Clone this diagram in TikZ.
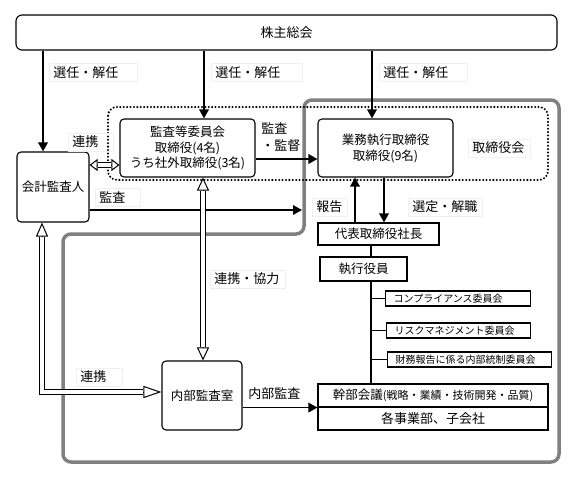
\documentclass[tikz,border=0pt]{standalone}
\usepackage{fontspec}
\setmainfont{Noto Sans CJK JP}
\usetikzlibrary{arrows.meta,calc}
\begin{document}
\begin{tikzpicture}[x=1pt,y=-1pt,
  font=\fontsize{12.5}{15.5}\selectfont,
  box/.style={draw, line width=1.1pt, inner sep=0pt, align=center, fill=white},
  rbox/.style={box, rounded corners=4pt},
  comm/.style={box, anchor=west, align=left, inner xsep=8pt, minimum height=15pt, font=\fontsize{10}{12}\selectfont, text width=#1},
  lab/.style={draw=black!6, line width=0.6pt, inner xsep=4pt, inner ysep=3pt, anchor=west, align=left, font=\fontsize{13}{17}\selectfont},
  arr/.style={line width=1.8pt, -{Triangle[length=9pt,width=9.5pt]}},
  ln/.style={line width=1.8pt},
  hshaft/.style={draw=black, double=white, double distance=4.2pt, line width=1pt},
  hhead/.style={line width=1pt, -{Triangle[fill=white,length=#1,width=12pt]}},
  frame/.style={draw=black!50, line width=3.5pt, rounded corners=8pt},
  dotframe/.style={line width=2.3pt, dash pattern=on 0pt off 3.4pt, line cap=round, rounded corners=9pt}
]
\useasboundingbox (0,0) rectangle (575,479);

% frames
\draw[frame] (200,234) -- (304,234) -- (304,100) -- (559,100) -- (559,462) -- (63,462) -- (63,234) -- cycle;
\draw[dotframe] (108,107) rectangle (548,180);

% nodes
\node[rbox, minimum width=541pt, minimum height=35pt, rounded corners=6pt, font=\fontsize{13}{15}\selectfont] (sh) at (286.5,32.5) {株主総会};
\node[rbox, minimum width=72pt, minimum height=70pt] (kaikei) at (53,187) {会計監査人};
\node[rbox, minimum width=135pt, minimum height=58pt] (kansa) at (187.5,148) {監査等委員会\\取締役(4名)\\うち社外取締役(3名)};
\node[rbox, minimum width=135pt, minimum height=58pt, font=\fontsize{12.5}{16}\selectfont] (gyomu) at (385.5,148) {業務執行取締役\\取締役(9名)};
\node[box, minimum width=121pt, minimum height=22pt] (daihyo) at (378.5,234) {代表取締役社長};
\node[box, minimum width=87pt, minimum height=24pt] (shikko) at (363.5,269) {執行役員};
\node[comm=129pt] (comp) at (385,298.5) {コンプライアンス委員会};
\node[comm=128pt] (risk) at (386,330.5) {リスクマネジメント委員会};
\node[comm=148pt] (zaimu) at (387,359.5) {財務報告に係る内部統制委員会};
\node[box, minimum width=230pt, minimum height=23pt] (kanbu) at (433,395.5) {幹部会議{\fontsize{11}{13}\selectfont(戦略・業績・技術開発・品質)}};
\node[box, minimum width=230pt, minimum height=23pt, font=\fontsize{13}{15}\selectfont] (jigyo) at (433,418.5) {各事業部、子会社};
\node[rbox, minimum width=80pt, minimum height=69pt] (naibu) at (202,395.5) {内部監査室};

% helper coordinates
\coordinate (xA) at (43,0);
\coordinate (xB) at (204,0);
\coordinate (xC) at (372,0);
\coordinate (yK) at (0,159);
\coordinate (yL) at (0,210);
\coordinate (xU) at (355,0);
\coordinate (xD) at (384,0);
\coordinate (xS) at (371,0);
\coordinate (yH1) at (0,165);
\coordinate (xH2) at (203,0);
\coordinate (xH3) at (42,0);
\coordinate (yH3) at (0,392);
\coordinate (kaiEnd) at (302,210);

% solid arrows
\draw[arr] (sh.south -| xA) -- (kaikei.north -| xA);
\draw[arr] (sh.south -| xB) -- (kansa.north -| xB);
\draw[arr] (sh.south -| xC) -- (gyomu.north -| xC);
\draw[arr] (kansa.east |- yK) -- (gyomu.west |- yK);
\draw[arr] (kaikei.east |- yL) -- (kaiEnd);
\draw[arr] (daihyo.north -| xU) -- (gyomu.south -| xU);
\draw[arr] (gyomu.south -| xD) -- (daihyo.north -| xD);
\draw[arr] (naibu.east |- kanbu.south west) -- (kanbu.south west);

% tree lines
\draw[ln] (daihyo.south -| xS) -- (shikko.north -| xS);
\draw[ln] (shikko.south -| xS) -- (kanbu.north -| xS);
\draw[ln] (xS |- comp.west) -- (comp.west);
\draw[ln] (xS |- risk.west) -- (risk.west);
\draw[ln] (xS |- zaimu.west) -- (zaimu.west);

% hollow double arrows
\coordinate (h1a) at (kaikei.east |- yH1);
\coordinate (h1b) at (kansa.west |- yH1);
\draw[hshaft] ($(h1a)+(8,0)$) -- ($(h1b)+(-8,0)$);
\draw[hhead=8pt] ($(h1a)+(8,0)$) -- (h1a);
\draw[hhead=8pt] ($(h1b)+(-8,0)$) -- (h1b);

\coordinate (h2a) at (kansa.south -| xH2);
\coordinate (h2b) at (naibu.north -| xH2);
\draw[hshaft] ($(h2a)+(0,13)$) -- ($(h2b)+(0,-13)$);
\draw[hhead=13pt] ($(h2a)+(0,13)$) -- (h2a);
\draw[hhead=13pt] ($(h2b)+(0,-13)$) -- (h2b);

\coordinate (h3a) at (kaikei.south -| xH3);
\coordinate (h3b) at (naibu.west |- yH3);
\draw[hshaft] ($(h3a)+(0,14)$) -- (h3a |- h3b) -- ($(h3b)+(-18,0)$);
\draw[hhead=14pt] ($(h3a)+(0,14)$) -- (h3a);
\draw[hhead=18pt] ($(h3b)+(-18,0)$) -- (h3b);

% labels
\node[lab, text width=80pt] (l1) at (49,72.5) {選任・解任};
\node[lab, text width=83pt] (l2) at (211,72.5) {選任・解任};
\node[lab, text width=80pt] (l3) at (379,72.5) {選任・解任};
\node[lab, text width=37pt] (l4) at (68,142) {連携};
\node[lab, draw=none, text width=40pt] (l5) at (257,137) {監査\\・監督};
\node[lab, text width=54pt] (l6) at (468,148) {取締役会};
\node[lab, text width=37pt] (l7) at (95,197) {監査};
\node[lab, text width=27pt] (l8) at (312,207) {報告};
\node[lab, text width=66pt] (l9) at (408,207) {選定・解職};
\node[lab, text width=67pt] (l10) at (210,279) {連携・協力};
\node[lab, text width=38pt] (l11) at (76,377) {連携};
\node[lab, draw=none] (l12) at (244,394) {内部監査};
\end{tikzpicture}
\end{document}
